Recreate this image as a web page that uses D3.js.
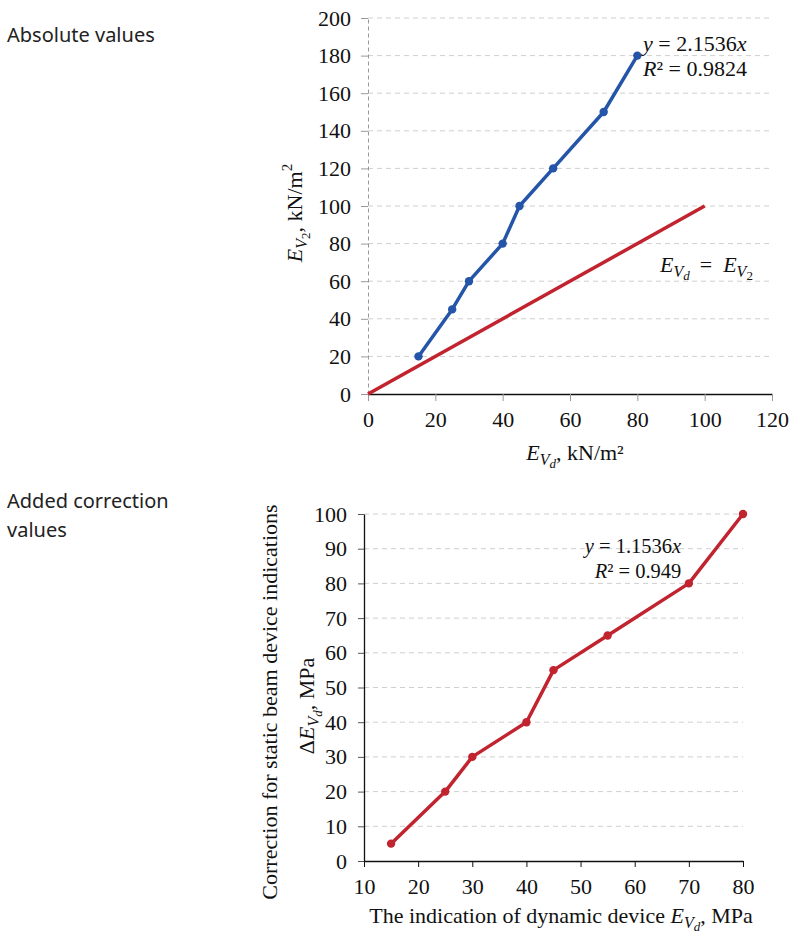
<!DOCTYPE html>
<html>
<head>
<meta charset="utf-8">
<script src="https://cdn.jsdelivr.net/npm/d3@7"></script>
<style>
body { margin: 0; background: #fff; }
</style>
</head>
<body>
<div id="chart"></div>
<script>
// data - top chart (absolute values)
const absX = [15, 25, 30, 40, 45, 55, 70, 80]
const absY = [20, 45, 60, 80, 100, 120, 150, 180]
const equalX = [0, 100]
const equalY = [0, 100]
const topXTicks = [0, 20, 40, 60, 80, 100, 120]
const topYTicks = [0, 20, 40, 60, 80, 100, 120, 140, 160, 180, 200]

// data - bottom chart (correction values)
const corX = [15, 25, 30, 40, 45, 55, 70, 80]
const corY = [5, 20, 30, 40, 55, 65, 80, 100]
const botXTicks = [10, 20, 30, 40, 50, 60, 70, 80]
const botYTicks = [0, 10, 20, 30, 40, 50, 60, 70, 80, 90, 100]

const blue = "#2455a8"
const red = "#c1232f"
const grid = "#cfcfcf"
const fs = 22
const serif = "Liberation Serif"

const svg = d3.select("#chart")
  .append("svg")
    .attr("width", 790)
    .attr("height", 935)
    .attr("font-family", serif)

// text helper: always sets the serif face explicitly
function txt(parent, x, y, size) {
  return parent.append("text").attr("x", x).attr("y", y)
    .attr("font-family", serif).attr("font-size", size).attr("fill", "#111")
}

// side labels
const sideLabels = [["Absolute values", 42], ["Added correction", 508], ["values", 537]]
sideLabels.forEach(d => {
  svg.append("text").attr("x", 7).attr("y", d[1])
    .attr("font-family", "Noto Sans").attr("font-size", 20).attr("fill", "#222")
    .text(d[0])
})

function styleAxis(axisG, tickColor) {
  axisG.attr("font-family", serif).attr("font-size", fs)
  axisG.selectAll(".tick line").attr("stroke", tickColor)
  axisG.selectAll(".tick text")
    .attr("font-family", serif)
    .attr("font-size", fs)
    .attr("fill", "#111")
}

// subscripted E, e.g. E_Vd or E_V2
function addE(t, last, lastItalic, dx) {
  t.append("tspan").attr("font-style", "italic").attr("dx", dx || 0).text("E")
  t.append("tspan").attr("font-style", "italic").attr("font-size", 16).attr("dy", 5).text("V")
  t.append("tspan").attr("font-style", lastItalic ? "italic" : "normal").attr("font-size", 13).attr("dy", 3).text(last)
}

// ---------- top chart ----------
const x1 = d3.scaleLinear().domain([0, 120]).range([368, 772])
const y1 = d3.scaleLinear().domain([0, 200]).range([394, 18])

let g1 = svg.append("g").attr("id", "topChart")

g1.append("g").selectAll("line").data(topYTicks.filter(d => d > 0)).join("line")
  .attr("x1", x1(0)).attr("x2", x1(120))
  .attr("y1", d => y1(d)).attr("y2", d => y1(d))
  .attr("stroke", grid).attr("stroke-dasharray", "5,4")

// y axis (dashed grey)
let yAxis1 = g1.append("g").attr("transform", `translate(${x1(0)},0)`)
  .call(d3.axisLeft(y1).tickValues(topYTicks).tickSize(7).tickPadding(10).tickSizeOuter(0))
yAxis1.select(".domain").attr("stroke", "#999").attr("stroke-dasharray", "4,3")
styleAxis(yAxis1, "#999")

let xAxis1 = g1.append("g").attr("transform", `translate(0,${y1(0)})`)
  .call(d3.axisBottom(x1).tickValues(topXTicks).tickSize(7).tickPadding(10).tickSizeOuter(0))
xAxis1.select(".domain").attr("stroke", "#111").attr("stroke-width", 1.3)
styleAxis(xAxis1, "#999")

const line1 = d3.line().x(d => x1(d[0])).y(d => y1(d[1]))

g1.append("path").datum(d3.zip(equalX, equalY))
  .attr("d", line1).attr("fill", "none").attr("stroke", red).attr("stroke-width", 3.5)

g1.append("path").datum(d3.zip(absX, absY))
  .attr("d", line1).attr("fill", "none").attr("stroke", blue).attr("stroke-width", 3.5)
  .attr("stroke-linejoin", "round")
g1.selectAll("circle").data(d3.zip(absX, absY)).join("circle")
  .attr("cx", d => x1(d[0])).attr("cy", d => y1(d[1])).attr("r", 4.2).attr("fill", blue)

// equation
let eq1 = txt(g1, 643, 51, fs)
eq1.append("tspan").attr("font-style", "italic").text("y")
eq1.append("tspan").text(" = 2.1536")
eq1.append("tspan").attr("font-style", "italic").text("x")
let r1 = txt(g1, 643, 76, fs)
r1.append("tspan").attr("font-style", "italic").text("R")
r1.append("tspan").text("² = 0.9824")

// E_Vd = E_V2 label
let lab = txt(g1, 660, 272, fs)
addE(lab, "d", true)
lab.append("tspan").attr("dy", -8).attr("dx", 10).text("=")
addE(lab, "2", false, 11)

// axis titles
let xt1 = txt(g1, 575, 460, fs).attr("text-anchor", "middle")
addE(xt1, "d", true)
xt1.append("tspan").attr("dy", -8).text(", kN/m²")

let yt1 = txt(g1, 0, 0, fs).attr("transform", "translate(302,213) rotate(-90)").attr("text-anchor", "middle")
addE(yt1, "2", false)
yt1.append("tspan").attr("dy", -8).text(", kN/m")
yt1.append("tspan").attr("font-size", 15).attr("dy", -10).text("2")

// ---------- bottom chart ----------
const x2 = d3.scaleLinear().domain([10, 80]).range([364, 743])
const y2 = d3.scaleLinear().domain([0, 100]).range([861, 514])

let g2 = svg.append("g").attr("id", "bottomChart")

g2.append("g").selectAll("line").data(botYTicks.filter(d => d > 0)).join("line")
  .attr("x1", x2(10)).attr("x2", x2(80))
  .attr("y1", d => y2(d)).attr("y2", d => y2(d))
  .attr("stroke", grid).attr("stroke-dasharray", "5,4")

let yAxis2 = g2.append("g").attr("transform", `translate(${x2(10)},0)`)
  .call(d3.axisLeft(y2).tickValues(botYTicks).tickSize(6).tickPadding(11).tickSizeOuter(0))
yAxis2.select(".domain").attr("stroke", "#111").attr("stroke-width", 1.3)
styleAxis(yAxis2, "#555")

let xAxis2 = g2.append("g").attr("transform", `translate(0,${y2(0)})`)
  .call(d3.axisBottom(x2).tickValues(botXTicks).tickSize(6).tickPadding(11).tickSizeOuter(0))
xAxis2.select(".domain").attr("stroke", "#111").attr("stroke-width", 1.3)
styleAxis(xAxis2, "#111")

const line2 = d3.line().x(d => x2(d[0])).y(d => y2(d[1]))

g2.append("path").datum(d3.zip(corX, corY))
  .attr("d", line2).attr("fill", "none").attr("stroke", red).attr("stroke-width", 3.5)
  .attr("stroke-linejoin", "round")
g2.selectAll("circle").data(d3.zip(corX, corY)).join("circle")
  .attr("cx", d => x2(d[0])).attr("cy", d => y2(d[1])).attr("r", 4.2).attr("fill", red)

let eq2 = txt(g2, 633, 553, 20.5).attr("text-anchor", "middle")
eq2.append("tspan").attr("font-style", "italic").text("y")
eq2.append("tspan").text(" = 1.1536")
eq2.append("tspan").attr("font-style", "italic").text("x")
let r2 = txt(g2, 638, 578, 20.5).attr("text-anchor", "middle")
r2.append("tspan").attr("font-style", "italic").text("R")
r2.append("tspan").text("² = 0.949")

let xt2 = txt(g2, 561, 923, fs).attr("text-anchor", "middle")
xt2.append("tspan").text("The indication of dynamic device ")
addE(xt2, "d", true)
xt2.append("tspan").attr("dy", -8).text(", MPa")

txt(g2, 0, 0, fs).attr("transform", "translate(277,702) rotate(-90)")
  .attr("text-anchor", "middle")
  .text("Correction for static beam device indications")

let yt2 = txt(g2, 0, 0, fs).attr("transform", "translate(314,706) rotate(-90)").attr("text-anchor", "middle")
yt2.append("tspan").text("Δ")
addE(yt2, "d", true)
yt2.append("tspan").attr("dy", -8).text(", MPa")
</script>
</body>
</html>
